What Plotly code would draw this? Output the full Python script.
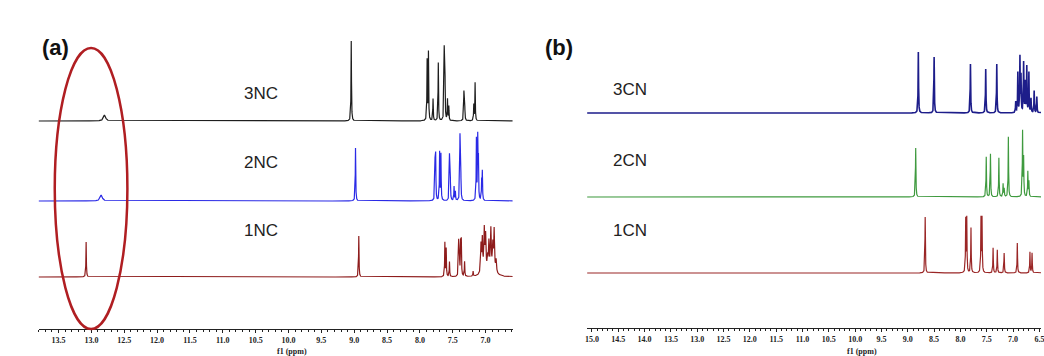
import numpy as np
import plotly.graph_objects as go

W, H = 1044, 356

# ---------------- data: peak lists (ppm, height) ----------------
# panel (a)
nc3_ppm = [12.80, 9.045, 7.89, 7.87, 7.80, 7.72, 7.63, 7.62, 7.58, 7.56, 7.33, 7.32, 7.18, 7.16]
nc3_h   = [6,     80,    60,   68,   22,   58,   67,   61,   21,   14,   27,   24,   16,   38]
nc2_ppm = [12.85, 8.98, 7.77, 7.76, 7.70, 7.68, 7.55, 7.54, 7.48, 7.46, 7.39, 7.38, 7.14, 7.12, 7.11, 7.06, 7.05]
nc2_h   = [6,     53,   37,   44,   48,   46,   42,   39,   14,   9,    61,   48,   61,   61,   42,   19,   28]
nc1_ppm = [13.08, 8.93, 7.62, 7.60, 7.55, 7.41, 7.40, 7.38, 7.37, 7.32, 7.19,
           7.07, 7.05, 7.02, 7.00, 6.97, 6.95, 6.92, 6.89, 6.87, 6.84]
nc1_h   = [35,    41,   34,   28,   15,   33,   30,   32,   34,   15,   5,
           28,   32,   40,   34,   12,   28,   40,   24,   40,   12]

# panel (b)
cn3_ppm = [8.80, 8.50, 7.81, 7.52, 7.31, 6.95, 6.91, 6.87, 6.85, 6.80, 6.77, 6.74, 6.70, 6.66, 6.60, 6.55]
cn3_h   = [61,   56,   49,   44,   49,   11,   40,   55,   36,   50,   30,   46,   40,   14,   22,   16]
cn2_ppm = [8.85, 7.51, 7.43, 7.27, 7.19, 7.17, 7.09, 6.82, 6.80, 6.72, 6.70]
cn2_h   = [49,   40,   43,   39,   13,   8,    60,   65,   38,   25,   15]
cn1_ppm = [8.67, 7.90, 7.88, 7.80, 7.61, 7.59, 7.38, 7.30, 7.17, 6.92, 6.68, 6.64]
cn1_h   = [56,   53,   54,   45,   54,   54,   25,   23,   20,   30,   21,   20]

labels_a = ["3NC", "2NC", "1NC"]
labels_b = ["3CN", "2CN", "1CN"]
colors_a = ["#1e1e1e", "#2a2ae6", "#8e1c1c"]
colors_b = ["#1d1d8a", "#3f9a3f", "#9a2626"]
offsets_a = [208, 128, 52]   # baseline above axis line (px units)
offsets_b = [215, 131, 55]

range_a = [13.80, 6.59]
range_b = [15.09, 6.47]


def lineshape(ppm, h, lo, hi, width):
    grid = np.unique(np.concatenate([np.arange(lo, hi, 0.001), np.array(ppm)]))
    y = np.zeros_like(grid)
    for p, a, w in zip(ppm, h, width):
        y += a / (1 + ((grid - p) / w) ** 2)
    return grid, y


def px(x):
    return x / W


def py(y):
    return 1 - y / H


fig = go.Figure()

specs_a = [(nc3_ppm, nc3_h), (nc2_ppm, nc2_h), (nc1_ppm, nc1_h)]
specs_b = [(cn3_ppm, cn3_h), (cn2_ppm, cn2_h), (cn1_ppm, cn1_h)]

for (pp, hh), col, off, name in zip(specs_a, colors_a, offsets_a, labels_a):
    widths = []
    for p, a in zip(pp, hh):
        if p > 12 and a < 10:
            widths.append(0.02)       # small broad NH bump
        elif name == "1NC" and p < 7.1:
            widths.append(0.007)      # broadened multiplet
        else:
            widths.append(0.004)
    x, y = lineshape(pp, hh, 6.5, 13.85, widths)
    if name == "1NC":
        x2, y2 = lineshape([7.02, 6.92, 6.87], [4, 4, 3], 6.5, 13.85, [0.05, 0.05, 0.05])
        y = y + np.interp(x, x2, y2)
    fig.add_trace(go.Scatter(x=x, y=y + off, mode="lines", line=dict(color=col, width=1.2),
                             xaxis="x", yaxis="y", showlegend=False, hoverinfo="skip"))

for (pp, hh), col, off, name in zip(specs_b, colors_b, offsets_b, labels_b):
    x, y = lineshape(pp, hh, 6.4, 15.1, [0.005] * len(pp))
    fig.add_trace(go.Scatter(x=x, y=y + off, mode="lines",
                             line=dict(color=col, width=1.6 if name == "3CN" else 1.2),
                             xaxis="x2", yaxis="y2", showlegend=False, hoverinfo="skip"))

tickfont = dict(family="Liberation Serif", size=8, color="#222", weight="bold")
common_x = dict(showline=True, linecolor="#222", linewidth=1, ticks="outside", ticklen=3,
                tickwidth=1, tickcolor="#222", dtick=0.5, tick0=0, tickformat=".1f",
                tickfont=tickfont, showgrid=False, zeroline=False, ticklabeloverflow="allow",
                minor=dict(ticks="outside", ticklen=2, dtick=0.1, tickcolor="#222"))

fig.update_layout(
    width=W, height=H,
    margin=dict(l=0, r=0, t=0, b=0),
    paper_bgcolor="white", plot_bgcolor="white",
    xaxis=dict(domain=[px(37), px(513)], range=range_a, anchor="y", **common_x),
    yaxis=dict(domain=[py(329), py(29)], range=[0, 300], visible=False, anchor="x"),
    xaxis2=dict(domain=[px(588), 1.0], range=range_b, anchor="y2", **common_x),
    yaxis2=dict(domain=[py(328), py(28)], range=[0, 300], visible=False, anchor="x2"),
)

ann = []
for name, yy in zip(labels_a, [82, 162, 242]):
    ann.append(dict(x=px(241), y=py(yy), text=name, showarrow=False, xref="paper", yref="paper",
                    font=dict(family="Liberation Sans", size=17, color="#222")))
for name, yy in zip(labels_b, [78, 160, 242]):
    ann.append(dict(x=px(631), y=py(yy), text=name, showarrow=False, xref="paper", yref="paper",
                    font=dict(family="Liberation Sans", size=17, color="#222")))
ann.append(dict(x=px(38), y=py(33), text="<b>(a)</b>", showarrow=False, xref="paper", yref="paper",
                font=dict(family="Liberation Sans", size=22, color="#111")))
ann.append(dict(x=px(560), y=py(33), text="<b>(b)</b>", showarrow=False, xref="paper", yref="paper",
                font=dict(family="Liberation Sans", size=22, color="#111")))
for xc in (275, 880):
    ann.append(dict(x=px(xc), y=0, yanchor="bottom", yshift=-1, borderpad=0, text="f1 (ppm)",
                    showarrow=False, xref="paper", yref="paper",
                    font=dict(family="Liberation Serif", size=8, color="#222", weight="bold")))
fig.update_layout(annotations=ann)

fig.add_shape(type="circle", xref="paper", yref="paper",
              x0=px(53), x1=px(126), y0=py(329), y1=py(48),
              line=dict(color="#b01e22", width=2.5))

fig.write_html("out.html")
